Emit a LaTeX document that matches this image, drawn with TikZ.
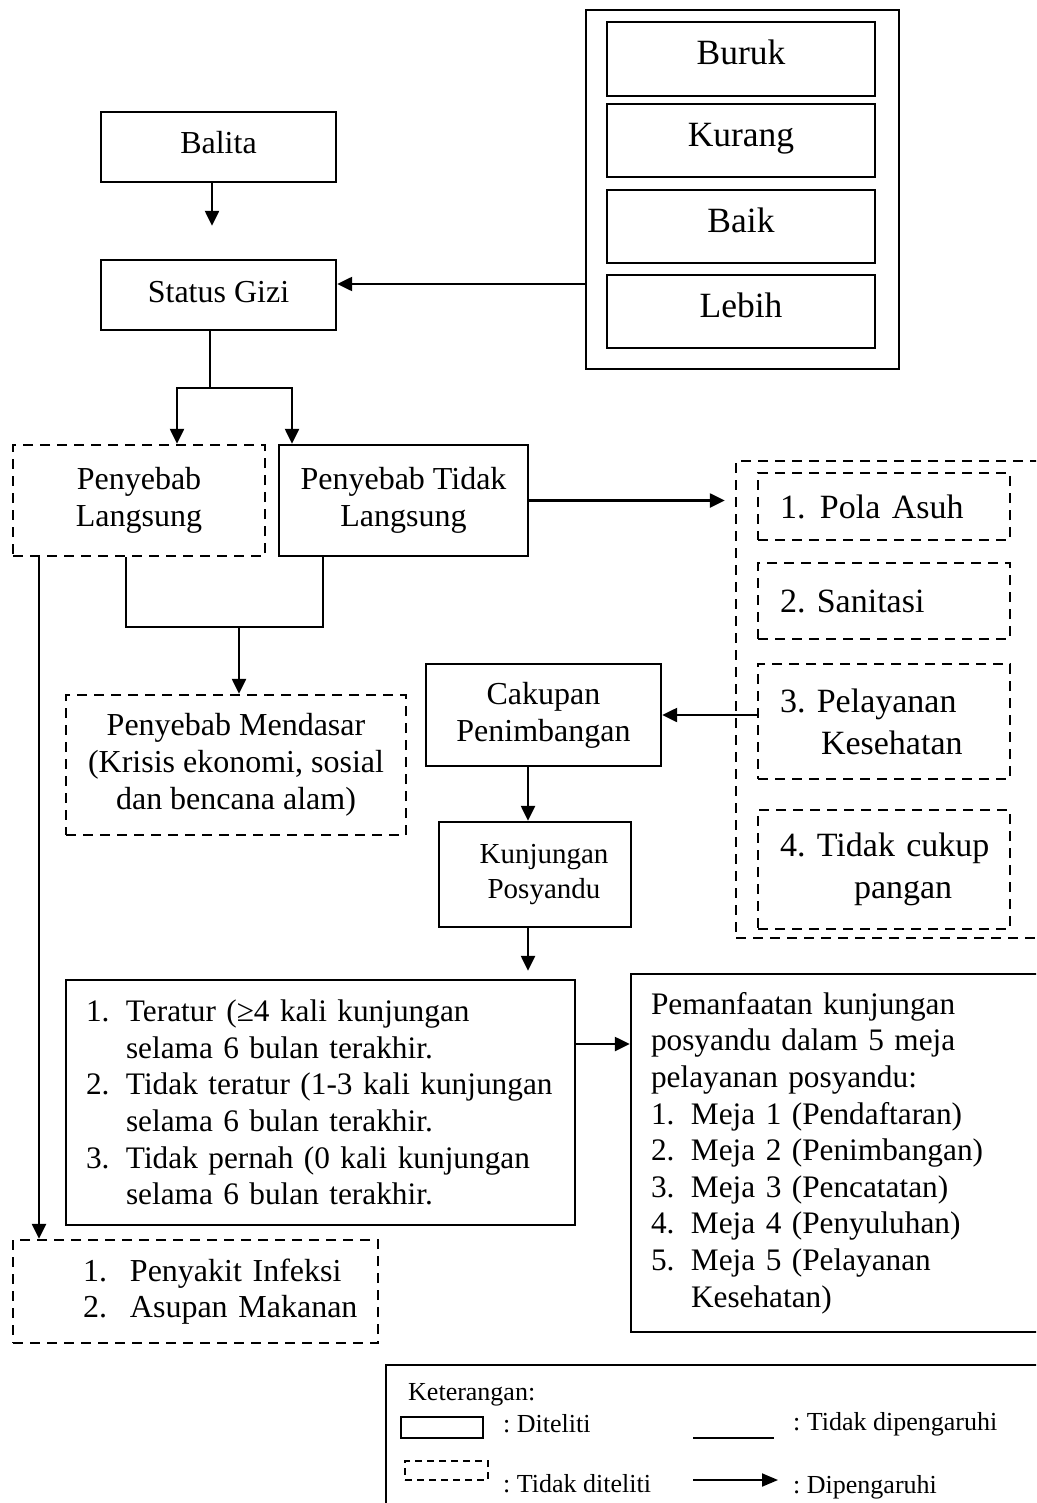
\documentclass[tikz,border=0pt]{standalone}
\usepackage{fontspec}
\setmainfont{Liberation Serif}
\usetikzlibrary{arrows.meta}
\frenchspacing

\begin{document}
\begin{tikzpicture}[x=1pt, y=-1pt,
  kotak/.style={draw, line width=2.4pt, inner sep=0pt, align=center, font=\fontsize{32}{37}\selectfont},
  putus/.style={kotak, dash pattern=on 10pt off 7pt},
  daftar/.style={inner xsep=0pt, align=left},
  kategori/.style={kotak, minimum width=268pt, minimum height=73pt, text height=24pt, text depth=12pt,
    font=\fontsize{35.5}{40}\selectfont},
  faktor/.style={putus, daftar, minimum width=252pt, text width=252pt, font=\fontsize{34}{42}\selectfont},
  panah/.style={line width=2.4pt, -{Triangle[length=15pt,width=14pt]}},
  garis/.style={line width=2.4pt},
  ket/.style={anchor=west, inner sep=0pt, font=\fontsize{26}{30}\selectfont}]
  \useasboundingbox (0,0) rectangle (1036,1503);
  \clip (0,0) rectangle (1036,1503);

  \node[kotak, minimum width=313pt, minimum height=359pt] (status) at (742.5,189.5) {};
  \node[kategori, minimum height=74pt] (buruk)  at (741,59)    {Buruk};
  \node[kategori]                      (kurang) at (741,140.5) {Kurang};
  \node[kategori]                      (baik)   at (741,226.5) {Baik};
  \node[kategori]                      (lebih)  at (741,311.5) {Lebih};

  \node[kotak, minimum width=235pt, minimum height=70pt, text height=23pt, text depth=9pt] (balita) at (218.5,147) {Balita};
  \node[kotak, minimum width=235pt, minimum height=70pt, text height=23pt, text depth=9pt] (gizi)   at (218.5,295) {Status Gizi};

  \node[putus, minimum width=252pt, minimum height=111pt] (langsung)    at (139,500.5)   {Penyebab\\Langsung};
  \node[kotak, minimum width=249pt, minimum height=111pt] (tdklangsung) at (403.5,500.5) {Penyebab Tidak\\Langsung};
  \node[putus, minimum width=340pt, minimum height=140pt] (mendasar)    at (236,765)
    {Penyebab Mendasar\\(Krisis ekonomi, sosial\\dan bencana alam)};

  % faktor penyebab tidak langsung
  \node[putus, minimum width=330pt, minimum height=477pt] (tdkditeliti) at (901,699.5) {};
  \node[faktor, minimum height=67pt]  (pola)      at (884,506.5) {\hspace*{22pt}\makebox[40pt][l]{1.}Pola Asuh};
  \node[faktor, minimum height=76pt]  (sanitasi)  at (884,601)   {\hspace*{22pt}2. Sanitasi};
  \node[faktor, minimum height=115pt] (pelayanan) at (884,721.5)
    {\hspace*{22pt}3. Pelayanan\\\hspace*{63pt}Kesehatan};
  \node[faktor, minimum height=119pt] (pangan)    at (884,869.5)
    {\hspace*{22pt}4. Tidak cukup\\\hspace*{96pt}pangan};

  \node[kotak, minimum width=235pt, minimum height=102pt] (cakupan) at (543.5,715) {Cakupan\\Penimbangan};
  \node[kotak, minimum width=192pt, minimum height=105pt, font=\fontsize{29}{35}\selectfont] (kunjungan) at (535,874.5)
    {\hspace*{18pt}Kunjungan\\\hspace*{18pt}Posyandu};

  \node[kotak, daftar, text width=509pt, minimum height=245pt, font=\fontsize{31.3}{36.6}\selectfont] (teratur) at (320.5,1102.5)
    {\hspace*{20pt}\makebox[40pt][l]{1.}Teratur (≥4 kali kunjungan\\
     \hspace*{60pt}selama 6 bulan terakhir.\\
     \hspace*{20pt}\makebox[40pt][l]{2.}Tidak teratur (1-3 kali kunjungan\\
     \hspace*{60pt}selama 6 bulan terakhir.\\
     \hspace*{20pt}\makebox[40pt][l]{3.}Tidak pernah (0 kali kunjungan\\
     \hspace*{60pt}selama 6 bulan terakhir.};
  \node[kotak, daftar, text width=440pt, minimum height=358pt, font=\fontsize{31.3}{36.6}\selectfont] (manfaat) at (851,1153)
    {\hspace*{20pt}Pemanfaatan kunjungan\\
     \hspace*{20pt}posyandu dalam 5 meja\\
     \hspace*{20pt}pelayanan posyandu:\\
     \hspace*{20pt}\makebox[40pt][l]{1.}Meja 1 (Pendaftaran)\\
     \hspace*{20pt}\makebox[40pt][l]{2.}Meja 2 (Penimbangan)\\
     \hspace*{20pt}\makebox[40pt][l]{3.}Meja 3 (Pencatatan)\\
     \hspace*{20pt}\makebox[40pt][l]{4.}Meja 4 (Penyuluhan)\\
     \hspace*{20pt}\makebox[40pt][l]{5.}Meja 5 (Pelayanan\\
     \hspace*{60pt}Kesehatan)};
  \node[putus, daftar, text width=365pt, minimum height=103pt, font=\fontsize{32}{36}\selectfont] (infeksi) at (195.5,1291.5)
    {\hspace*{70pt}\makebox[47pt][l]{1.}Penyakit Infeksi\\
     \hspace*{70pt}\makebox[47pt][l]{2.}Asupan Makanan};

  % connectors
  \coordinate (cabang) at (210,388);
  \coordinate (gabung) at (239,627);
  \draw[panah, shorten >=33pt] ([xshift=-6.5pt]balita.south) -- ([xshift=-6.5pt]gizi.north);
  \draw[panah] ([yshift=-94.5pt]status.west) -- ([yshift=-94.5pt]status.west -| gizi.east);
  \draw[garis] ([xshift=-8.5pt]gizi.south) -- (cabang);
  \draw[panah] (cabang) -| ([xshift=38pt]langsung.north);
  \draw[panah] (cabang) -| ([xshift=-111.5pt]tdklangsung.north);
  \draw[garis] ([xshift=-13pt]langsung.south) |- (gabung) -| ([xshift=-80.5pt]tdklangsung.south);
  \draw[panah] (gabung) -- (gabung |- mendasar.north);
  \draw[panah] ([xshift=-100pt]langsung.south) -- ([xshift=-100pt]langsung.south |- infeksi.north);
  \draw[panah, shorten >=10pt] (tdklangsung.east) -- (tdklangsung.east -| tdkditeliti.west);
  \draw[panah] (pelayanan.west |- cakupan.east) -- (cakupan.east);
  \draw[panah] ([xshift=-15.5pt]cakupan.south) -- ([xshift=-15.5pt]cakupan.south |- kunjungan.north);
  \draw[panah, shorten >=8pt] ([xshift=-7pt]kunjungan.south) -- ([xshift=-7pt]kunjungan.south |- teratur.north);
  \draw[panah] ([yshift=58.5pt]teratur.east) -- ([yshift=58.5pt]teratur.east -| manfaat.west);

  % keterangan
  \node[draw, line width=2pt, minimum width=700pt, minimum height=200pt] (legenda) at (736,1465) {};
  \node[ket] (judulket) at (408,1395) {Keterangan:};
  \node[draw, line width=1.6pt, minimum width=82pt, minimum height=21pt, inner sep=0pt] (legkotak) at (442,1427.5) {};
  \node[draw, line width=1.6pt, dash pattern=on 7pt off 5pt, minimum width=83pt, minimum height=19pt, inner sep=0pt]
    (legputus) at (446.5,1470.5) {};
  \node[ket] (ketkotak) at (503,1423.5) {: Diteliti};
  \node[ket] (ketputus) at (503,1484)   {: Tidak diteliti};
  \coordinate (garisA) at (693,1438);
  \coordinate (garisB) at (774,1438);
  \coordinate (panahA) at (693,1480);
  \coordinate (panahB) at (778,1480);
  \draw[line width=2pt] (garisA) -- (garisB);
  \draw[line width=2pt, -{Triangle[length=16pt,width=13pt]}] (panahA) -- (panahB);
  \node[ket] (ketgaris) at (793,1424.5) {: Tidak dipengaruhi};
  \node[ket] (ketpanah) at (793,1487)   {: Dipengaruhi};
\end{tikzpicture}
\end{document}
